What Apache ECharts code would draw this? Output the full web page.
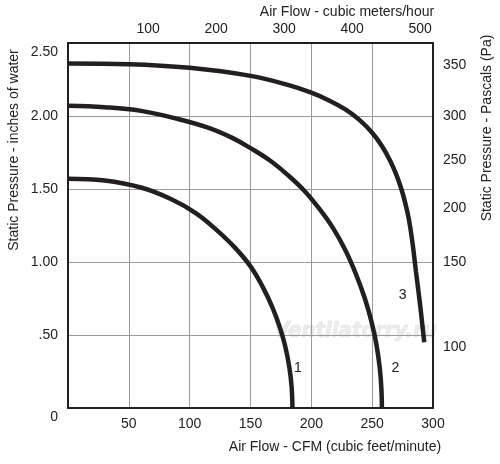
<!DOCTYPE html>
<html lang="en">
<head>
  <meta charset="UTF-8">
  <title>Fan curves</title>
  <script src="https://cdn.jsdelivr.net/npm/echarts@6/dist/echarts.min.js"></script>
  <style>
    html, body { margin: 0; padding: 0; background: #fff; }
  </style>
</head>
<body>
  <div id="chart" style="width:500px;height:464px"></div>

  <script>
    // airflow (CFM) / static pressure (inches of water)
    var curve1 = [
      [0, 1.57], [30, 1.558], [60, 1.51], [85, 1.43], [105, 1.335], [122, 1.22],
      [137, 1.10], [150, 0.97], [160, 0.83], [168, 0.69], [174, 0.555],
      [178.5, 0.425], [182, 0.275], [183.8, 0.145], [184.5, 0]
    ]
    var curve2 = [
      [0, 2.07], [30, 2.06], [60, 2.035], [90, 1.98], [115, 1.92], [135, 1.85],
      [150, 1.78], [166, 1.695], [180, 1.60], [194, 1.49], [207, 1.36],
      [218, 1.23], [228, 1.08], [236.5, 0.92], [244, 0.75], [249.5, 0.59],
      [253.5, 0.435], [256.3, 0.27], [257.6, 0.13], [258, 0]
    ]
    var curve3 = [
      [0, 2.36], [50, 2.355], [100, 2.33], [150, 2.275], [180, 2.215], [200, 2.16],
      [215, 2.105], [228, 2.045], [240, 1.97], [250, 1.885], [258, 1.795],
      [265, 1.69], [270, 1.595], [274, 1.50], [277, 1.41], [280, 1.30],
      [283, 1.14], [286, 0.935], [289.5, 0.70], [292.8, 0.45]
    ]

    // tick labels
    var cfmTicks = [50, 100, 150, 200, 250, 300]
    var m3hTicks = [100, 200, 300, 400, 500]
    var paLabels = ['350', '300', '250', '200', '150', '100']
    var paAt = [2.35, 2.0, 1.70, 1.37, 1.0, 0.42]   // where each Pa label sits on the inch scale

    var mChart = echarts.init(document.getElementById('chart'))
    var font = 'Liberation Sans, Arial, sans-serif'
    var ink = '#231f20'
    var labelStyle = { color: '#222', fontSize: 14, fontFamily: font }

    function curve(name, data, tag, at) {
      return {
        name: name,
        type: 'line',
        data: data,
        smooth: 0.4,
        symbol: 'none',
        lineStyle: { color: ink, width: 4.5 },
        silent: true,
        markPoint: {
          symbol: 'circle',
          symbolSize: 0,
          data: [{ coord: at, label: { show: true, formatter: tag, color: '#222', fontSize: 14, fontFamily: font } }]
        }
      }
    }

    var option = {
      animation: false,
      grid: { left: 68, right: 67, top: 43, bottom: 56 },
      xAxis: [
        {
          type: 'value', position: 'bottom', min: 0, max: 300, interval: 50,
          axisLine: { onZero: false, lineStyle: { color: ink, width: 2 } },
          axisTick: { show: false },
          axisLabel: Object.assign({ margin: 9, customValues: cfmTicks }, labelStyle),
          splitLine: { show: true, lineStyle: { color: '#9a9a9a', width: 1 } }
        },
        {
          type: 'value', position: 'top', min: -18, max: 519,
          axisLine: { onZero: false, lineStyle: { color: ink, width: 2 } },
          axisTick: { show: false },
          axisLabel: Object.assign({ margin: 7, customValues: m3hTicks }, labelStyle),
          splitLine: { show: false }
        }
      ],
      yAxis: [
        {
          type: 'value', position: 'left', min: 0, max: 2.5, interval: 0.5,
          axisLine: { show: true, onZero: false, lineStyle: { color: ink, width: 2 } },
          axisTick: { show: false },
          axisLabel: Object.assign({
            margin: 10,
            formatter: function (v) {
              if (v === 0) return '{lo|0}'
              if (v === 2.5) return '{lo|2.50}'
              if (v === 0.5) return '.50'
              return v.toFixed(2)
            },
            rich: { lo: { fontSize: 14, fontFamily: font, color: '#222', padding: [18, 0, 0, 0] } }
          }, labelStyle),
          splitLine: { show: true, lineStyle: { color: '#9a9a9a', width: 1 } }
        },
        {
          type: 'value', position: 'right', min: 0, max: 2.5,
          axisLine: { show: true, onZero: false, lineStyle: { color: ink, width: 2 } },
          axisTick: { show: false },
          axisLabel: Object.assign({
            margin: 10,
            customValues: paAt,
            formatter: function (v) {
              var i = paAt.indexOf(v)
              return i < 0 ? '' : paLabels[i]
            }
          }, labelStyle),
          splitLine: { show: false }
        }
      ],
      graphic: [
        {
          type: 'text', left: 274, top: 320, silent: true, z: 0,
          style: {
            text: 'Ventilatorry.ru', fontSize: 22, fontStyle: 'italic', fontWeight: 'bold',
            fontFamily: 'DejaVu Sans Condensed, Liberation Sans Narrow, sans-serif',
            fill: 'rgba(228,228,228,0.7)', stroke: 'rgba(205,205,205,0.6)', lineWidth: 0.6
          }
        },
        {
          type: 'text', x: 14, y: 150, rotation: Math.PI / 2, silent: true,
          style: { text: 'Static Pressure - inches of water', fontSize: 14, fontFamily: font, fill: '#222', align: 'center', verticalAlign: 'middle' }
        },
        {
          type: 'text', x: 487, y: 128, rotation: Math.PI / 2, silent: true,
          style: { text: 'Static Pressure - Pascals (Pa)', fontSize: 14, fontFamily: font, fill: '#222', align: 'center', verticalAlign: 'middle' }
        },
        {
          type: 'text', x: 347, y: 12, silent: true,
          style: { text: 'Air Flow - cubic meters/hour', fontSize: 14, fontFamily: font, fill: '#222', align: 'center', verticalAlign: 'middle' }
        },
        {
          type: 'text', x: 335, y: 447, silent: true,
          style: { text: 'Air Flow - CFM (cubic feet/minute)', fontSize: 14, fontFamily: font, fill: '#222', align: 'center', verticalAlign: 'middle' }
        }
      ],
      series: [
        curve('1', curve1, '1', [189, 0.27]),
        curve('2', curve2, '2', [269, 0.27]),
        curve('3', curve3, '3', [275, 0.77])
      ]
    }
    mChart.setOption(option)
  </script>
</body>
</html>
